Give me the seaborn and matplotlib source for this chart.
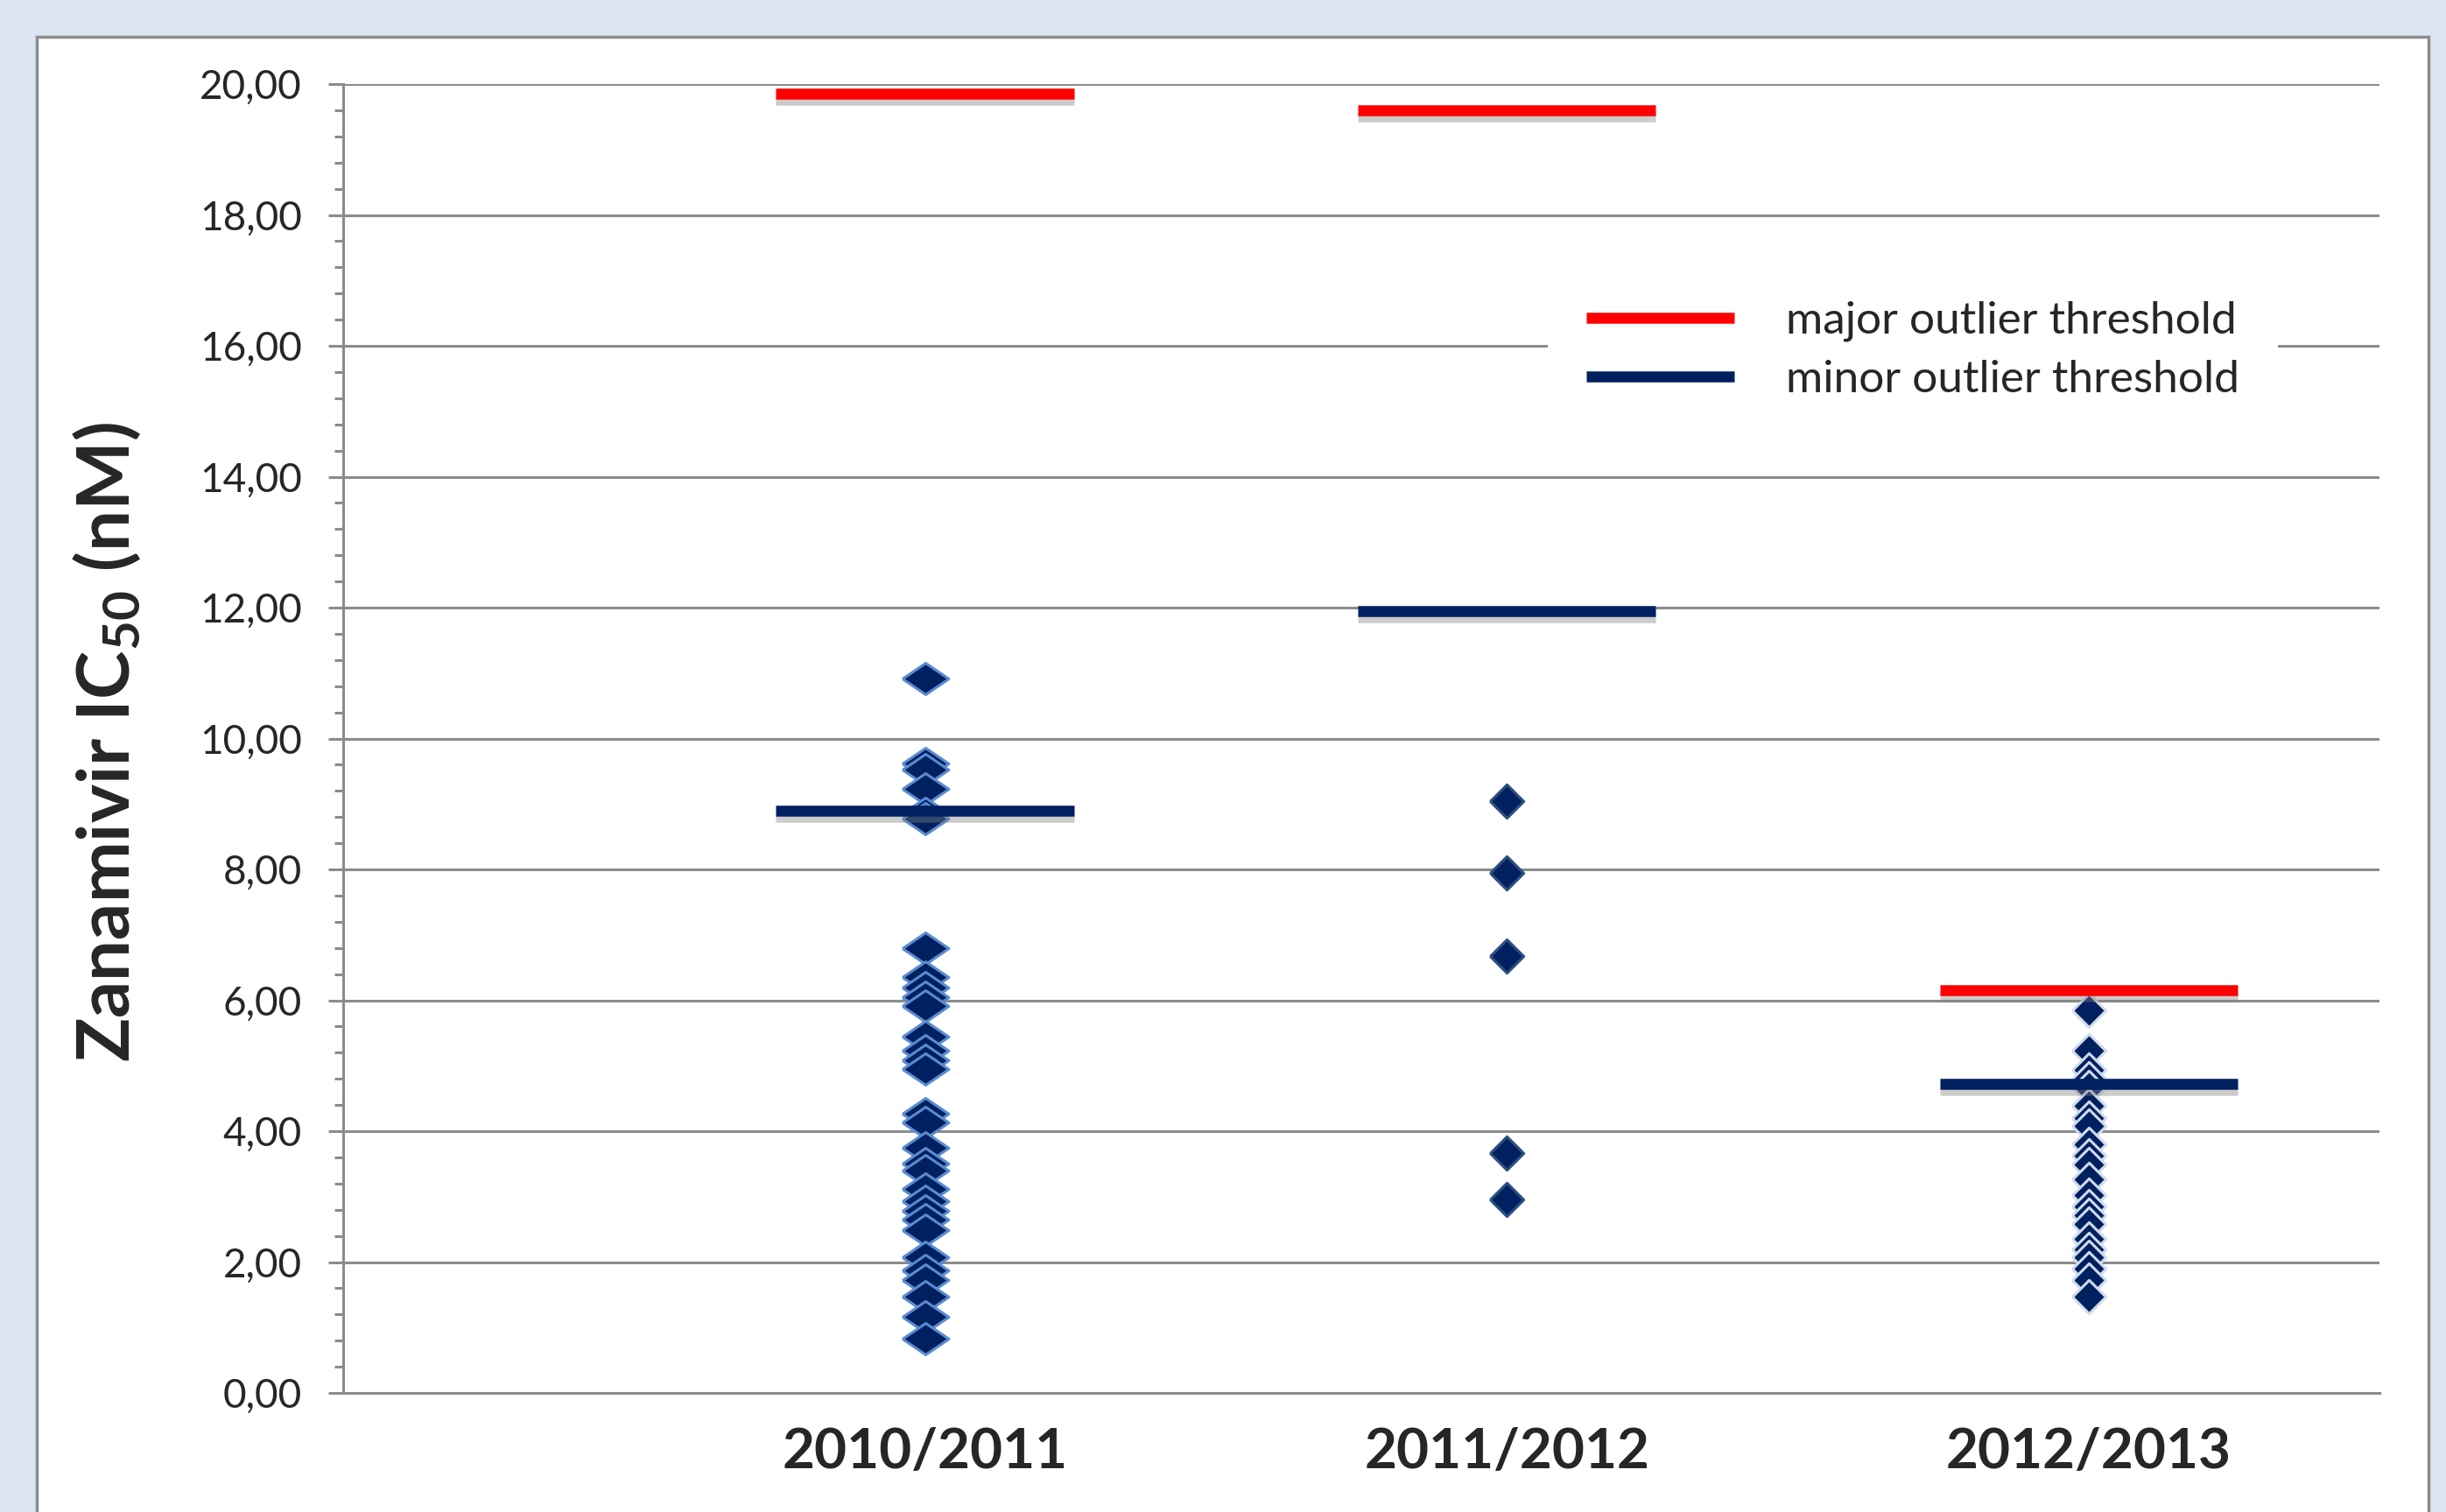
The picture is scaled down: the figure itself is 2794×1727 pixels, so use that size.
import numpy as np
import pandas as pd
import matplotlib
matplotlib.use('Agg')
import matplotlib.pyplot as plt
import matplotlib.patheffects as pe
from matplotlib.patches import Rectangle
from matplotlib.ticker import MultipleLocator, FuncFormatter
import seaborn as sns

sns.set_theme(style='white')
plt.rcParams['font.family'] = ['Lato', 'DejaVu Sans']
plt.rcParams['mathtext.default'] = 'regular'

# data
seasons = ['2010/2011', '2011/2012', '2012/2013']
ic50_1011 = [10.92, 9.62, 9.52, 9.23, 8.85, 8.78, 6.79, 6.36, 6.19, 6.05, 5.91,
             5.45, 5.23, 5.09, 4.95, 4.27, 4.13, 3.75, 3.50, 3.40, 3.12, 2.93,
             2.78, 2.65, 2.49, 2.08, 1.87, 1.73, 1.47, 1.17, 0.83]
ic50_1112 = [9.04, 7.95, 6.68, 3.67, 2.96]
ic50_1213 = [5.85, 5.23, 4.94, 4.80, 4.67, 4.39, 4.20, 4.08, 3.80, 3.62, 3.49,
             3.26, 3.03, 2.85, 2.72, 2.58, 2.35, 2.20, 2.08, 1.90, 1.72, 1.47]
major_thr = [19.85, 19.60, 6.15]
minor_thr = [8.90, 11.95, 4.72]

df = pd.DataFrame({
    'season': [seasons[0]] * len(ic50_1011) + [seasons[1]] * len(ic50_1112) + [seasons[2]] * len(ic50_1213),
    'ic50': ic50_1011 + ic50_1112 + ic50_1213,
})

W, H = 2794, 1727
fig = plt.figure(figsize=(W / 100, H / 100), dpi=100, facecolor='#dce6f2')
fig.patches.append(Rectangle((42 / W, -0.02), (2774 - 42) / W, (H - 42) / H + 0.02,
                             transform=fig.transFigure, fc='white', ec='#8c8c8c', lw=2.5, zorder=-5))
ax = fig.add_axes([392 / W, 136 / H, (2718 - 392) / W, (1591 - 96) / H])
ax.set_zorder(2)
ax.set_facecolor('none')

flat_diamond = [(-1, 0), (0, 0.68), (1, 0), (0, -0.68), (-1, 0)]
diamond = [(-1, 0), (0, 1), (1, 0), (0, -1), (-1, 0)]
navy = '#002060'
styles = {
    seasons[0]: dict(marker=flat_diamond, s=1450, edgecolor='#5b8bd0'),
    seasons[1]: dict(marker=diamond, s=760, edgecolor='#2e4f80'),
    seasons[2]: dict(marker=diamond, s=760, edgecolor='#d0dbeb'),
}
for season in seasons:
    st = styles[season]
    sns.stripplot(data=df[df['season'] == season], x='season', y='ic50', order=seasons,
                  jitter=False, color=navy, marker=st['marker'], s=np.sqrt(st['s']),
                  edgecolor=st['edgecolor'], linewidth=2.2, ax=ax, zorder=3)

shadow = [pe.SimpleLineShadow(offset=(0, -5), shadow_color='0.5', alpha=0.4), pe.Normal()]
half = 0.256
for i in range(len(seasons)):
    ax.hlines(major_thr[i], i - half, i + half, color='#ff0000', lw=9, zorder=4,
              path_effects=shadow, label='major outlier threshold' if i == 0 else None)
    ax.hlines(minor_thr[i], i - half, i + half, color=navy, lw=9, zorder=4,
              path_effects=shadow, label='minor outlier threshold' if i == 0 else None)

ax.set_xlim(-1, 2.5)
ax.set_ylim(0, 20)
ax.yaxis.set_major_locator(MultipleLocator(2))
ax.yaxis.set_minor_locator(MultipleLocator(0.4))
ax.yaxis.set_major_formatter(FuncFormatter(lambda v, p: f'{v:.2f}'.replace('.', ',')))
ax.grid(axis='y', which='major', color='#8c8c8c', lw=2.2)
ax.set_axisbelow(True)
for side in ['top', 'right']:
    ax.spines[side].set_visible(False)
for side in ['left', 'bottom']:
    ax.spines[side].set_color('#8c8c8c')
    ax.spines[side].set_linewidth(2.2)
ax.tick_params(axis='y', which='major', length=12, width=2.2, color='#8c8c8c', labelsize=33, pad=22, left=True)
ax.tick_params(axis='y', which='minor', length=7, width=2.2, color='#8c8c8c', left=True)
ax.tick_params(axis='x', length=0, labelsize=46, pad=28)
for lab in ax.get_xticklabels():
    lab.set_fontweight('bold')

ax.set_xlabel('')
ax.set_ylabel('Zanamivir IC$_{50}$ (nM)', fontsize=60, fontweight='bold')
ax.yaxis.set_label_coords(163 / W, 0.509, transform=fig.transFigure)

leg = ax.legend(loc='upper left', bbox_to_anchor=(1768 / W, 1 - 300 / H),
                bbox_transform=fig.transFigure, fontsize=37, handlelength=3.3,
                handletextpad=1.15, labelspacing=0.4, borderpad=0.85, borderaxespad=0,
                frameon=True, facecolor='white', edgecolor='none', framealpha=1, fancybox=False)

fig.savefig('out.png', dpi=100, facecolor=fig.get_facecolor())
